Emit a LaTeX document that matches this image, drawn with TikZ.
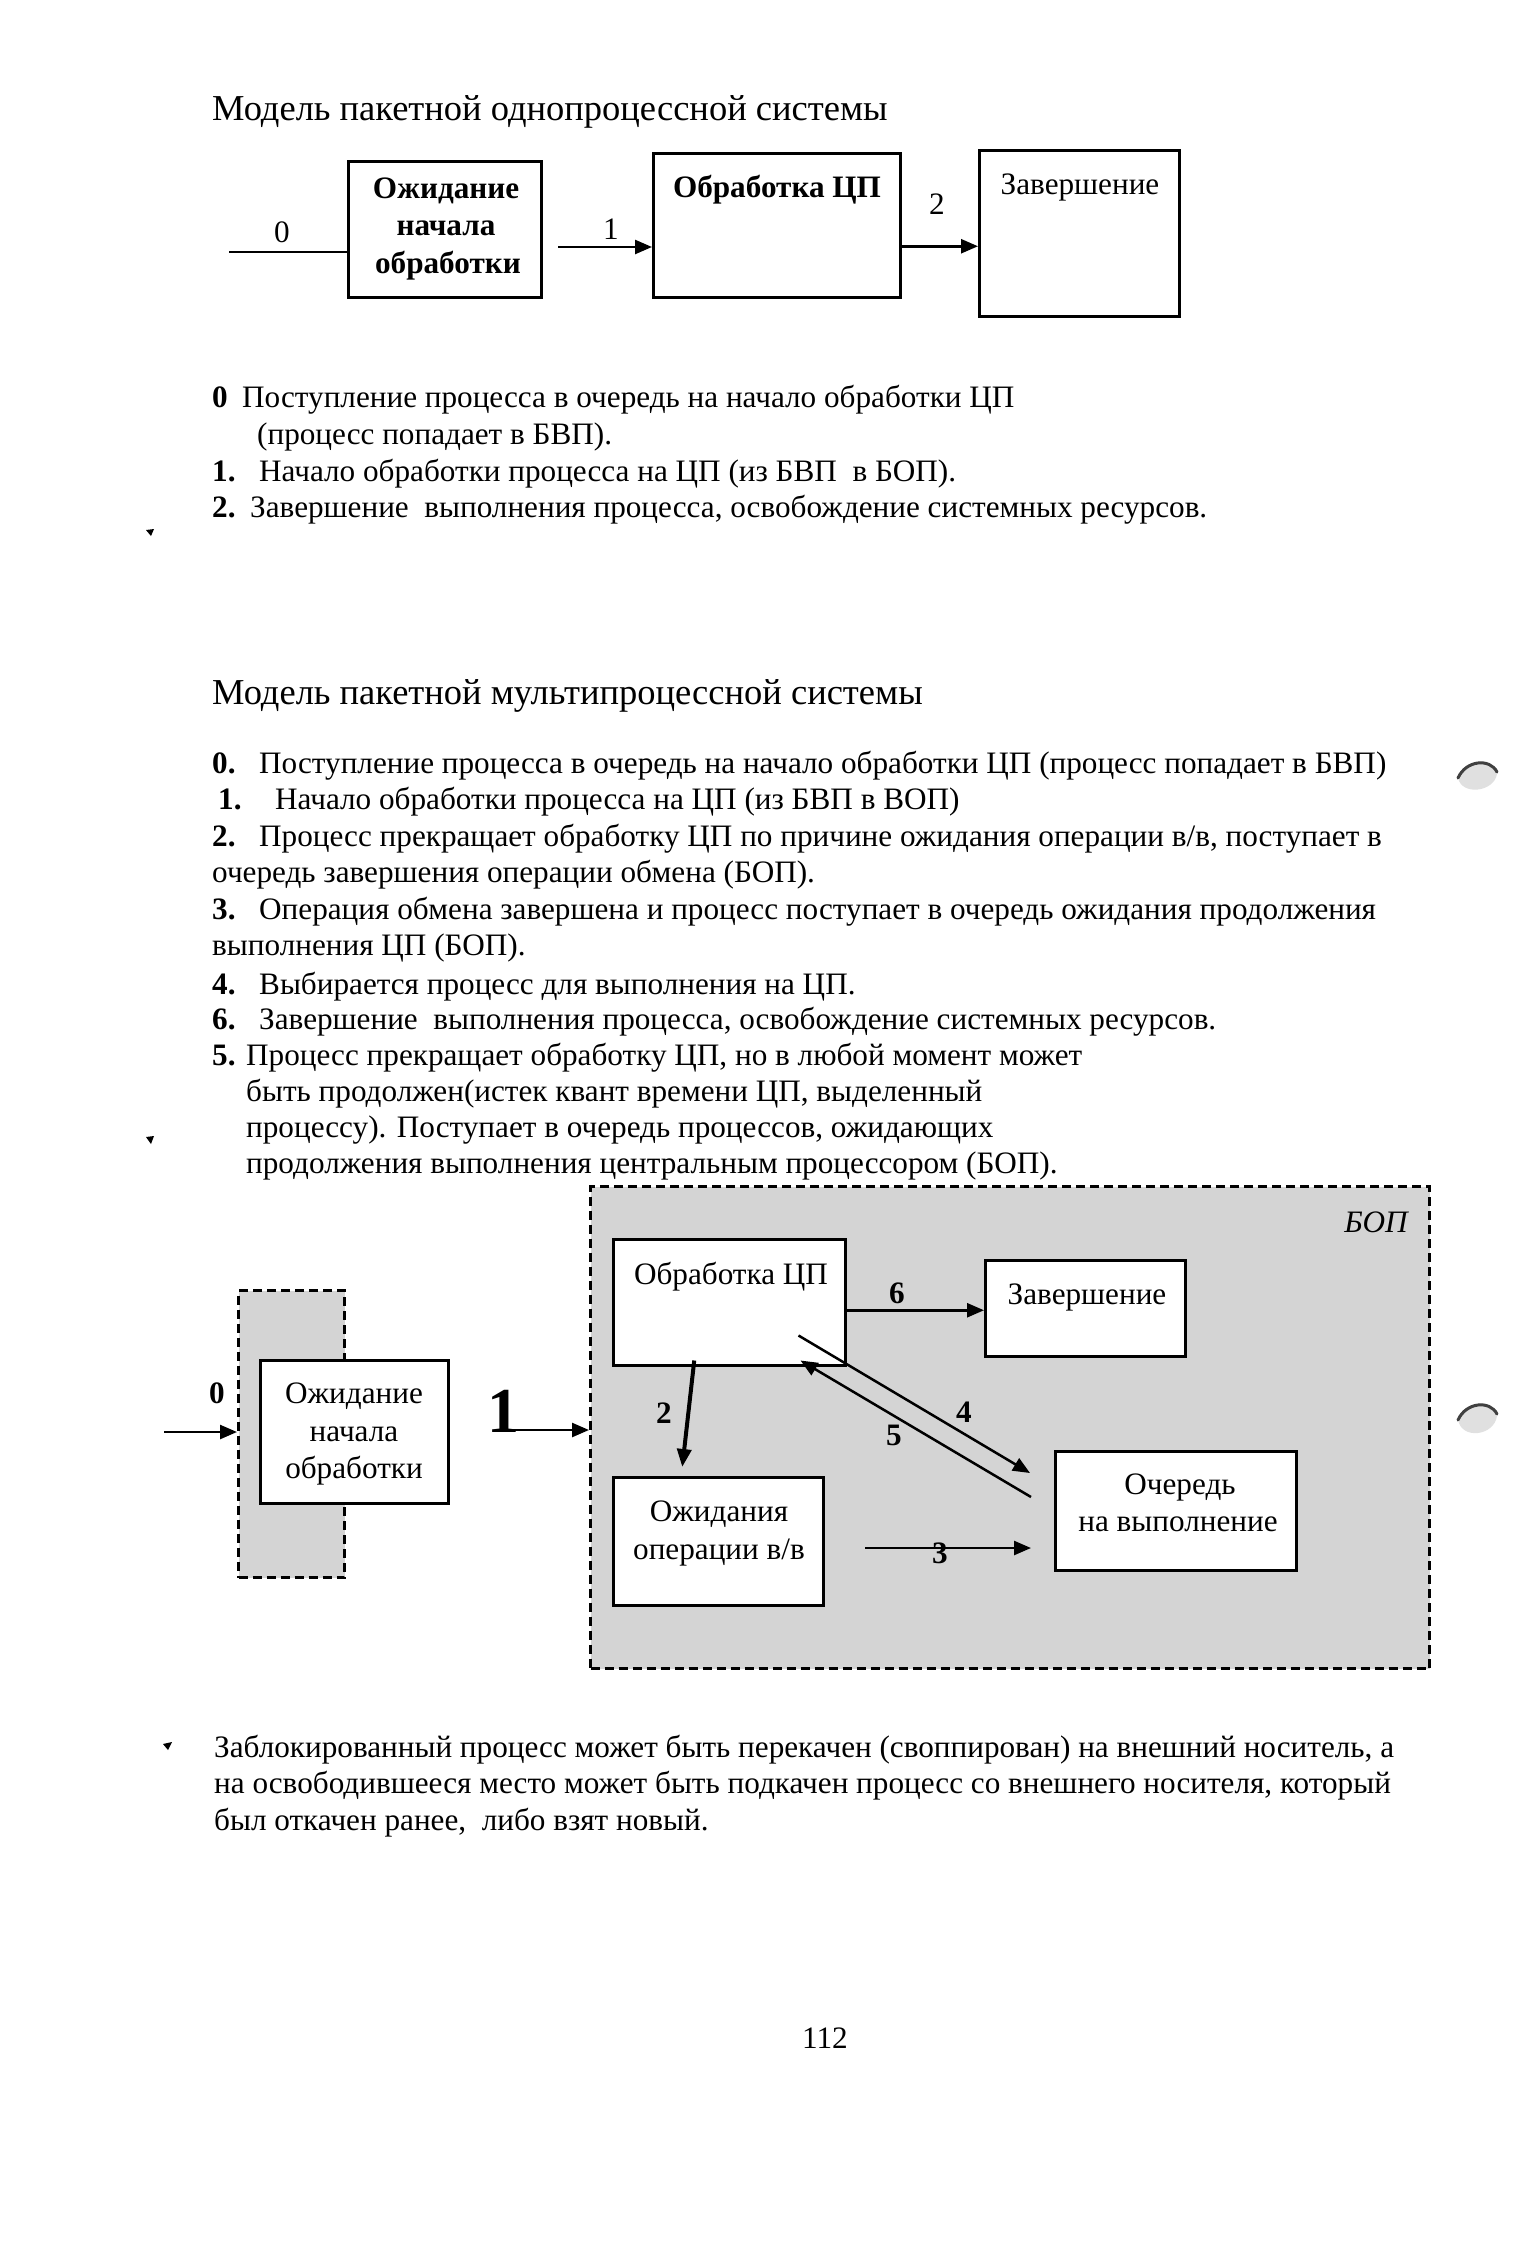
\documentclass[tikz,border=0pt]{standalone}
\usepackage{fontspec}
\setmainfont{Liberation Serif}
\usetikzlibrary{arrows.meta}
\begin{document}
\begin{tikzpicture}[x=1pt,y=-1pt,
  every node/.style={font=\fontsize{31.2}{37}\selectfont, inner sep=0pt},
  txt/.style={anchor=base west},
  ctr/.style={anchor=base},
  box/.style={draw, line width=2.5pt, fill=white, anchor=north west},
  dashbox/.style={draw, line width=3pt, dash pattern=on 9pt off 5pt, fill=black!17, anchor=north west},
  arr/.style={line width=2.5pt, -{Triangle[length=17pt,width=14pt]}},
  plain/.style={line width=2.5pt},
  lbl/.style={font=\fontsize{31.2}{37}\selectfont\bfseries},
  blob/.style={fill=black}
]
\useasboundingbox (0,0) rectangle (1517,2241);
\fill[white] (0,0) rectangle (1517,2241);

% ---------------- Top section ----------------
\node[txt, font=\fontsize{36.5}{43}\selectfont] (title1) at (212,120) {Модель пакетной однопроцессной системы};

\node[box, minimum width=193pt, minimum height=136pt] (b1) at (347,160) {};
\node[box, minimum width=247pt, minimum height=144pt] (b2) at (652,152) {};
\node[box, minimum width=200pt, minimum height=166pt] (b3) at (978,149) {};

\node[ctr, lbl] (b1t1) at (446,198) {Ожидание};
\node[ctr, lbl] (b1t2) at (446,235) {начала};
\node[ctr, lbl] (b1t3) at (448,273) {обработки};
\node[ctr, lbl] (b2t) at (777,197) {Обработка ЦП};
\node[ctr] (b3t) at (1080,194) {Завершение};

\coordinate (t0) at (229,252);
\coordinate (t1) at (558,247);
\draw[plain] (t0) -- (t0 -| b1.west);
\draw[arr] (t1) -- (t1 -| b2.west);
\draw[arr] ([yshift=-21pt]b2.east) -- ([yshift=-21pt]b2.east -| b3.west);
\node (l0) at (282,232) {0};
\node (l1) at (611,229) {1};
\node (l2) at (937,204) {2};

% list 1
\node[txt, lbl] (n10) at (212,407) {0};
\node[txt] (s10) at (242,407) {Поступление процесса в очередь на начало обработки ЦП};
\node[txt] (s10b) at (257,444) {(процесс попадает в БВП).};
\node[txt, lbl] (n11) at (212,481) {1.};
\node[txt] (s11) at (259,481) {Начало обработки процесса на ЦП (из БВП\ \ в БОП).};
\node[txt, lbl] (n12) at (212,517) {2.};
\node[txt] (s12) at (250,517) {Завершение\ \ выполнения процесса, освобождение системных ресурсов.};

\path[blob] (146,530) -- (154,529) -- (151,536) -- cycle;

% ---------------- Second section ----------------
\node[txt, font=\fontsize{36.5}{43}\selectfont] (title2) at (212,704) {Модель пакетной мультипроцессной системы};

\node[txt, lbl] (n20) at (212,773) {0.};
\node[txt] (s20) at (259,773) {Поступление процесса в очередь на начало обработки ЦП (процесс попадает в БВП)};
\node[txt, lbl] (n21) at (218,809) {1.};
\node[txt] (s21) at (275,809) {Начало обработки процесса на ЦП (из БВП в ВОП)};
\node[txt, lbl] (n22) at (212,846) {2.};
\node[txt] (s22) at (259,846) {Процесс прекращает обработку ЦП по причине ожидания операции в/в, поступает в};
\node[txt] (s22b) at (212,882) {очередь завершения операции обмена (БОП).};
\node[txt, lbl] (n23) at (212,919) {3.};
\node[txt] (s23) at (259,919) {Операция обмена завершена и процесс поступает в очередь ожидания продолжения};
\node[txt] (s23b) at (212,955) {выполнения ЦП (БОП).};
\node[txt, lbl] (n24) at (212,994) {4.};
\node[txt] (s24) at (259,994) {Выбирается процесс для выполнения на ЦП.};
\node[txt, lbl] (n26) at (212,1029) {6.};
\node[txt] (s26) at (259,1029) {Завершение\ \ выполнения процесса, освобождение системных ресурсов.};
\node[txt, lbl] (n25) at (212,1065) {5.};
\node[txt] (s25) at (246,1065) {Процесс прекращает обработку ЦП, но в любой момент может};
\node[txt] (s25b) at (246,1101) {быть продолжен(истек квант времени ЦП, выделенный};
\node[txt] (s25c) at (246,1137) {процессу). Поступает в очередь процессов, ожидающих};
\node[txt] (s25d) at (246,1173) {продолжения выполнения центральным процессором (БОП).};

\path[blob] (146,1137) -- (154,1136) -- (151,1144) -- cycle;

% ---------------- Lower diagram ----------------
\node[dashbox, minimum width=106pt, minimum height=287pt] (bvp) at (237,1289) {};
\node[dashbox, minimum width=839pt, minimum height=482pt] (bop) at (589,1185) {};
\node[anchor=center, font=\fontsize{31.2}{37}\selectfont\itshape] (bopl) at (1376,1222) {БОП};

\node[box, minimum width=188pt, minimum height=143pt] (w0) at (259,1359) {};
\node[box, minimum width=232pt, minimum height=126pt] (cpu) at (612,1238) {};
\node[box, minimum width=200pt, minimum height=96pt] (fin) at (984,1259) {};
\node[box, minimum width=210pt, minimum height=128pt] (io) at (612,1476) {};
\node[box, minimum width=241pt, minimum height=119pt] (que) at (1054,1450) {};

\node[ctr] (w0t1) at (354,1403) {Ожидание};
\node[ctr] (w0t2) at (354,1441) {начала};
\node[ctr] (w0t3) at (354,1478) {обработки};
\node[ctr] (cput) at (731,1284) {Обработка ЦП};
\node[ctr] (fint) at (1087,1304) {Завершение};
\node[ctr] (iot1) at (719,1521) {Ожидания};
\node[ctr] (iot2) at (719,1559) {операции в/в};
\node[ctr] (quet1) at (1180,1494) {Очередь};
\node[ctr] (quet2) at (1178,1531) {на выполнение};

% connectors
\coordinate (c0) at (164,1432);
\draw[arr] (c0) -- (c0 -| bvp.west);
\node[ctr, font=\fontsize{64}{72}\selectfont\bfseries] (one) at (503,1432) {1};
\coordinate (c1) at (510,1430);
\draw[arr] (c1) -- (c1 -| bop.west);
\draw[arr] ([yshift=-8pt]cpu.east) -- ([yshift=-8pt]cpu.east -| fin.west);
\draw[line width=4pt, -{Triangle[length=18pt,width=14pt]}] ([xshift=-35pt,yshift=6pt]cpu.south) -- ([xshift=-36pt,yshift=9pt]io.north);
\draw[arr] ([xshift=-48pt,yshift=31pt]cpu.south east) -- ([xshift=-24pt,yshift=-23pt]que.north west);
\draw[arr] ([xshift=-23pt,yshift=-47pt]que.north west) -- ([xshift=-46pt,yshift=6pt]cpu.south east);
\coordinate (c3) at (865,1548);
\draw[arr] (c3) -- ([xshift=-23pt]c3 -| que.west);

\node[lbl] (m0) at (217,1393) {0};
\node[lbl] (m6) at (897,1293) {6};
\node[lbl] (m2) at (664,1413) {2};
\node[lbl] (m4) at (964,1412) {4};
\node[lbl] (m5) at (894,1435) {5};
\node[lbl] (m3) at (940,1553) {3};

% ---------------- Bottom paragraph ----------------
\path[blob] (163,1744) -- (172,1742) -- (168,1750) -- cycle;
\node[txt] (p1) at (214,1757) {Заблокированный процесс может быть перекачен (своппирован) на внешний носитель, а};
\node[txt] (p2) at (214,1793) {на освободившееся место может быть подкачен процесс со внешнего носителя, который};
\node[txt] (p3) at (214,1830) {был откачен ранее,\ \ либо взят новый.};

\node[ctr] (page) at (825,2048) {112};

% punch-hole shadows
\fill[black!12] (1458,778) .. controls (1462,758) and (1494,756) .. (1497,774) .. controls (1494,792) and (1462,796) .. (1458,778) -- cycle;
\draw[line width=3pt, black!75, line cap=round] (1458,778) .. controls (1466,760) and (1490,758) .. (1497,772);
\fill[black!12] (1458,1420) .. controls (1462,1400) and (1494,1398) .. (1497,1416) .. controls (1494,1436) and (1462,1440) .. (1458,1420) -- cycle;
\draw[line width=3pt, black!75, line cap=round] (1458,1420) .. controls (1466,1402) and (1490,1400) .. (1497,1414);
\end{tikzpicture}
\end{document}
